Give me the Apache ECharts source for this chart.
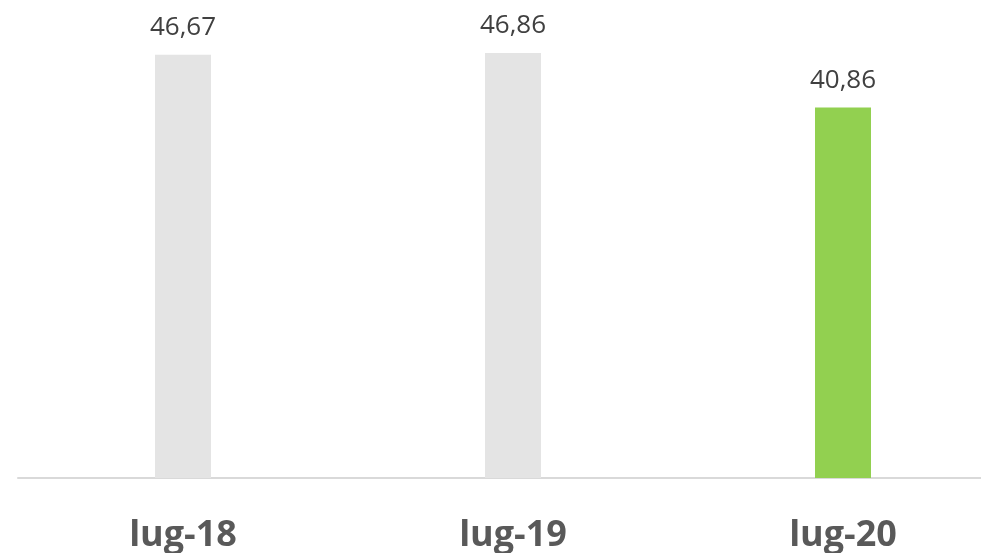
<!DOCTYPE html>
<html>
<head>
<meta charset="utf-8">
<script src="https://cdn.jsdelivr.net/npm/echarts@6/dist/echarts.min.js"></script>
<style>html,body{margin:0;padding:0;background:#fff}#c{width:981px;height:553px}</style>
</head>
<body>
<div id="c"></div>
<script>
const categories = ['lug-18', 'lug-19', 'lug-20'];
const values = [46.67, 46.86, 40.86];
const barColors = ['#e4e4e4', '#e4e4e4', '#92d050'];

const chart = echarts.init(document.getElementById('c'));
chart.setOption({
  animation: false,
  grid: { left: 18, right: -27, top: 0, bottom: 75, outerBoundsMode: 'none', containLabel: false },
  xAxis: {
    type: 'category',
    data: categories,
    axisLine: { lineStyle: { color: '#d9d9d9', width: 2 } },
    axisTick: { show: false },
    axisLabel: { color: '#595959', fontSize: 36, fontWeight: 'bold', fontFamily: 'Open Sans', margin: 40 }
  },
  yAxis: { type: 'value', min: 0, max: 52.7, show: false, splitLine: { show: false } },
  series: [{
    type: 'bar',
    barWidth: 56,
    data: values.map((v, i) => ({ value: v, itemStyle: { color: barColors[i] } })),
    label: {
      show: true, position: 'top', distance: 14,
      color: '#404040', fontSize: 26, fontFamily: 'Open Sans',
      formatter: p => p.value.toFixed(2).replace('.', ',')
    }
  }]
});
</script>
</body>
</html>
